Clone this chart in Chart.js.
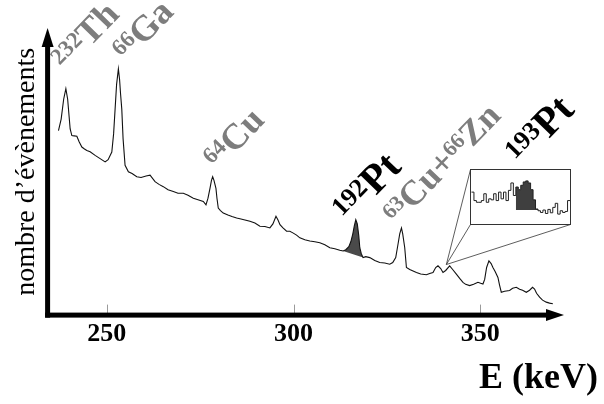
<!DOCTYPE html>
<html><head><meta charset="utf-8">
<script src="https://cdn.jsdelivr.net/npm/chart.js@4/dist/chart.umd.min.js"></script>
<style>
html,body{margin:0;padding:0;background:#fff;}
#wrap{position:relative;width:604px;height:404px;overflow:hidden;}
#main{position:absolute;left:0;top:0;}
#inset{position:absolute;left:470px;top:169px;}
</style></head><body>
<div id="wrap">
<canvas id="main" width="604" height="404"></canvas>
<canvas id="inset" width="101" height="56"></canvas>
</div>
<script>
// ---- main spectrum (energy keV, relative counts) ----
const energies = [237.06,237.78,238.45,239.04,239.52,239.92,240.19,240.64,241.26,241.98,242.59,243.32,243.93,244.65,245.53,246.87,248.21,249.55,250.35,251.34,251.82,252.22,252.62,253.10,253.42,253.69,254.01,254.36,254.89,255.78,256.76,258.02,259.17,260.51,261.58,262.91,263.98,265.13,266.39,267.81,269.06,270.48,271.74,273.16,274.41,275.83,276.55,277.09,277.62,278.02,278.34,278.69,279.22,279.49,279.84,280.43,281.18,282.43,283.50,284.76,285.91,286.98,288.32,289.65,290.99,292.33,293.66,294.47,295.29,295.83,296.36,297.16,298.13,299.00,299.81,300.80,301.68,303.02,304.36,305.69,307.03,308.37,309.71,311.04,312.38,313.26,313.98,314.79,315.32,315.86,316.26,316.66,317.06,317.46,317.73,318.13,318.61,319.33,320.40,321.74,323.07,324.41,325.75,326.55,327.35,327.89,328.42,328.88,329.22,329.76,330.21,331.10,332.89,334.04,335.56,336.44,337.33,338.05,338.66,339.39,340.00,340.72,341.79,342.59,343.58,344.47,345.35,346.07,347.14,348.21,349.36,350.08,350.70,351.16,351.68,352.30,352.89,353.37,353.96,354.71,355.16,355.61,356.50,357.83,358.64,359.63,360.51,361.31,362.30,363.18,363.98,364.52,365.05,365.86,366.66,367.65,368.53,369.41];
const counts = [184.3,196,216,226.7,216,198,186,179.3,179,178.7,173,167.7,166,164.3,163,159.3,156,152.7,155,162.7,181,206,231,246.7,236,221,206,176,149.3,142.7,141,137.7,137,138.5,139.3,132.7,130,127.7,124.5,122.7,121,121,119,116,114.5,112.7,109.3,116,126,134,137.7,134,126,116,106,103.5,101,99,97.5,96,95,94,92.7,91,87.7,87.5,86,90,97.7,94,89.3,86,82.7,82.7,81,78.7,76,74,72.7,72,71,69,66,65,63.5,62.7,64,67,72,80,88,94.3,90,78,66,60,56,57,56,53,51,50.5,49.3,51,56,68,80,86,80,66,46,44,41,39.5,38.7,40,41,46,47.7,45,41,43,47.7,44,39.3,35,31,29,27.7,29,31,30,29.3,34,46,52.7,50,46,42,36,28,21,22,22.7,25,26,24,23,21,23,26,24.3,20,16,13,11,10,9.3];

// ---- 192Pt shaded peak ----
const pt192Energies = [313.26,313.98,314.79,315.32,315.86,316.26,316.66,317.06,317.46,317.73,318.13,318.61];
const pt192Counts   = [62.7,64,67,72,80,88,94.3,90,78,66,60,56];
const pt192BaseEnergies = [313.26,318.61];
const pt192BaseCounts   = [62.7,56];

// ---- axis ticks / titles ----
const tickValues = [250,300,350];
const tickLabels = ['250','300','350'];
const xTitle = 'E (keV)';
const yTitle = 'nombre d’évènements';

// ---- isotope labels ----
const isotopeLabels = [
  [{t:'232',sup:true},{t:'Th'}],
  [{t:'66',sup:true},{t:'Ga'}],
  [{t:'64',sup:true},{t:'Cu'}],
  [{t:'192',sup:true},{t:'Pt'}],
  [{t:'63',sup:true},{t:'Cu+'},{t:'66',sup:true},{t:'Zn'}],
  [{t:'193',sup:true},{t:'Pt'}]
];

// ---- zoomed inset (channels, counts) ----
const insetChannels = [0,1,2,3,4,5,6,7,8,9,10,11,12,13,14,15,16,17,18,19,20,21,22,23,24,25,26,27,28,29,30,31,32,33,34,35,36,37,38,39,40];
const insetCounts = [32.3,24,22.3,22.3,24,30.7,22.3,25.7,24.7,30.7,24,32.3,25.7,32.3,24,34,41.3,29,37.3,34.7,39,42.3,43.3,41.3,34.7,24.7,15.7,14,12.3,14.7,11.3,15.3,12,17.3,21.3,10.7,14,12.3,13.3,24,24];
const insetPeakChannels = [18,19,20,21,22,23,24,25,26,27];
const insetPeakCounts = [37.3,34.7,39,42.3,43.3,41.3,34.7,24.7,15.7,14];
const insetPeakBase = 14.7;
const insetZoomE = 340.9, insetZoomCount = 49;

const SERIF = '"Liberation Serif", "Times New Roman", serif';
const GRAY = '#7d7d7d';

const pts = (xs, ys) => xs.map((x,i)=>({x, y: ys[i]}));

function drawLabel(ctx, segs, x, y, color, size, supSize, angle){
  ctx.save();
  ctx.translate(x,y); ctx.rotate(angle);
  ctx.fillStyle = color; ctx.textAlign='left'; ctx.textBaseline='alphabetic';
  let cx = 0;
  for (const s of segs){
    const sz = s.sup ? supSize : size;
    ctx.font = `bold ${sz}px ${SERIF}`;
    const dy = s.sup ? -size*0.25 : 0;
    ctx.fillText(s.t, cx, dy);
    cx += ctx.measureText(s.t).width;
  }
  ctx.restore();
}

const decorPlugin = {
  id:'decor',
  afterDatasetsDraw(chart){
    const {ctx, chartArea:a, scales:{x,y}} = chart;
    ctx.save();
    // tick marks (inside, gray)
    ctx.strokeStyle = '#9a9a9a'; ctx.lineWidth = 1;
    tickValues.forEach(v=>{
      const px = Math.round(x.getPixelForValue(v))+0.5;
      ctx.beginPath(); ctx.moveTo(px, a.bottom-11); ctx.lineTo(px, a.bottom-2); ctx.stroke();
    });
    // axes
    ctx.fillStyle = '#000';
    const ay = a.bottom - 0.5, ax = a.left;
    ctx.fillRect(ax-2.5, ay-2.5, 548-(ax-2.5), 5);
    ctx.beginPath(); ctx.moveTo(546, ay-6); ctx.lineTo(564, ay); ctx.lineTo(546, ay+6); ctx.closePath(); ctx.fill();
    ctx.fillRect(ax-2.5, 46, 5, ay+2.5-46);
    ctx.beginPath(); ctx.moveTo(ax-6, 47); ctx.lineTo(ax, 28); ctx.lineTo(ax+6, 47); ctx.closePath(); ctx.fill();
    // connector lines to inset
    const zx = x.getPixelForValue(insetZoomE), zy = y.getPixelForValue(insetZoomCount);
    ctx.strokeStyle = '#333'; ctx.lineWidth = 0.8;
    [[470.5,169.5],[470.5,224.5],[570.5,224.5]].forEach(([cx,cy])=>{
      ctx.beginPath(); ctx.moveTo(zx, zy); ctx.lineTo(cx, cy); ctx.stroke();
    });
    // isotope labels
    const ang = -46*Math.PI/180;
    drawLabel(ctx, isotopeLabels[0], 66, 72, GRAY, 36, 23, ang);
    drawLabel(ctx, isotopeLabels[1], 127, 63, GRAY, 36, 23, ang);
    drawLabel(ctx, isotopeLabels[2], 218, 171, GRAY, 36, 23, ang);
    drawLabel(ctx, isotopeLabels[3], 349, 224, '#000', 41, 26, ang);
    drawLabel(ctx, isotopeLabels[4], 397, 226, GRAY, 35, 22, ang);
    drawLabel(ctx, isotopeLabels[5], 522, 167, '#000', 41, 26, ang);
    ctx.restore();
  }
};

new Chart(document.getElementById('main'), {
  type:'line',
  data:{datasets:[
    {data: pts(energies, counts), borderColor:'#111', borderWidth:1.1, pointRadius:0, fill:false, tension:0, order:0},
    {data: pts(pt192Energies, pt192Counts), borderWidth:0, borderColor:'rgba(0,0,0,0)', backgroundColor:'#4a4a4a', pointRadius:0, fill:'+1', tension:0, order:1},
    {data: pts(pt192BaseEnergies, pt192BaseCounts), borderWidth:0, borderColor:'rgba(0,0,0,0)', pointRadius:0, fill:false, order:2}
  ]},
  options:{
    responsive:false, animation:false, events:[], devicePixelRatio:1,
    layout:{padding:{left:6,right:6,top:28,bottom:0}},
    plugins:{legend:{display:false}, tooltip:{enabled:false}},
    scales:{
      x:{type:'linear', min:234.15, max:381.5,
        grid:{display:false, drawTicks:false}, border:{display:false},
        afterBuildTicks: s => { s.ticks = tickValues.map(v=>({value:v})); },
        ticks:{callback:(v)=>{const i=tickValues.indexOf(v); return i>=0?tickLabels[i]:'';},
          font:{family:SERIF, size:26, weight:'bold'}, color:'#000', padding:3, maxRotation:0, autoSkip:false},
        title:{display:true, text:xTitle, align:'end', color:'#000',
          font:{family:SERIF, size:36, weight:'bold'}, padding:{top:4,bottom:4}}
      },
      y:{type:'linear', min:-2.6, max:288,
        grid:{display:false, drawTicks:false}, border:{display:false}, ticks:{display:false},
        title:{display:true, text:yTitle, color:'#000', font:{family:SERIF, size:28}}
      }
    }
  },
  plugins:[decorPlugin]
});

const insetBorder = {
  id:'insetBorder',
  afterDraw(chart){
    const ctx = chart.ctx;
    ctx.save(); ctx.strokeStyle='#333'; ctx.lineWidth=1;
    ctx.strokeRect(0.5,0.5,100,55);
    ctx.restore();
  }
};

new Chart(document.getElementById('inset'), {
  type:'line',
  data:{datasets:[
    {data: pts(insetChannels, insetCounts), stepped:true, borderColor:'#222', borderWidth:1, pointRadius:0, fill:false, order:0},
    {data: pts(insetPeakChannels, insetPeakCounts), stepped:true, borderWidth:0, borderColor:'rgba(0,0,0,0)', backgroundColor:'#3f3f3f', pointRadius:0, fill:{value:insetPeakBase}, order:1}
  ]},
  options:{
    responsive:false, animation:false, events:[], devicePixelRatio:1,
    layout:{padding:0},
    plugins:{legend:{display:false}, tooltip:{enabled:false}},
    scales:{
      x:{type:'linear', min:-0.6, max:40.4, display:false},
      y:{type:'linear', min:0, max:55, display:false}
    }
  },
  plugins:[insetBorder]
});
</script>
</body></html>
